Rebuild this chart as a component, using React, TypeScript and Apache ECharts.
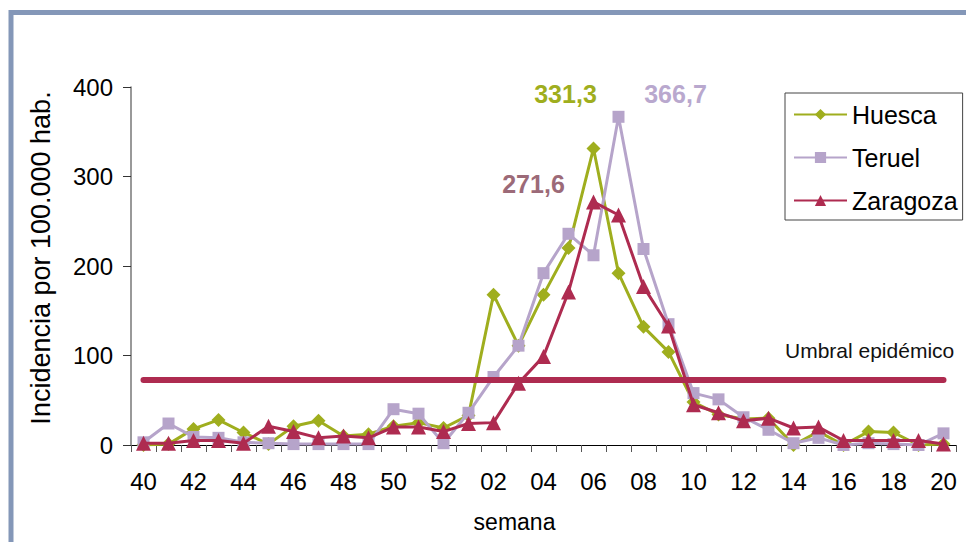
import React, { useEffect, useRef } from "react";
import * as echarts from "echarts";

const categories = [
  "40","41","42","43","44","45","46","47","48","49","50","51","52",
  "01","02","03","04","05","06","07","08","09","10","11","12","13","14","15","16","17","18","19","20",
];
const huesca = [0, 1, 18, 28, 14, 1, 21, 27, 10, 12, 21, 25, 19, 33, 168, 111, 168, 220, 331.3, 192, 132, 104, 48, 34, 29, 30, 0, 15, 0, 15, 14, 0, 1];
const teruel = [3, 24, 9, 8, 3, 2, 1, 1, 1, 1, 40, 35, 2, 36, 76, 111, 192, 236, 212, 366.7, 219, 135, 58, 51, 31, 17, 2, 8, 0, 2, 1, 0, 13];
const zaragoza = [2, 2, 5, 5, 2, 21, 15, 8, 10, 8, 20, 20, 15, 24, 25, 69, 99, 171, 271.6, 257, 177, 133, 45, 36, 27, 30, 19, 20, 5, 5, 5, 5, 1];
const umbral = 72.5;
const seriesNames = ["Huesca", "Teruel", "Zaragoza"];
const peakHuesca = { week: "06", value: 331.3, label: "331,3" };
const peakTeruel = { week: "07", value: 366.7, label: "366,7" };
const peakZaragoza = { week: "06", value: 271.6, label: "271,6" };

const FONT = "Liberation Sans, Arial, sans-serif";
const NARROW = "Liberation Sans Narrow, Arial Narrow, Liberation Sans, sans-serif";
const C_HUESCA = "#9FAE1E";
const C_TERUEL = "#B6A4CA";
const C_ZARAGOZA = "#AE2B50";

export default function App() {
  const ref = useRef<HTMLDivElement>(null);
  useEffect(() => {
    if (!ref.current) return;
    const chart = echarts.init(ref.current, null, { renderer: "svg" });
    const peakMark = (p: any, color: string, offset: number[]) => ({
      symbol: "circle",
      symbolSize: 0,
      silent: true,
      data: [
        {
          coord: [p.week, p.value],
          label: {
            show: true,
            position: "inside",
            offset,
            formatter: p.label,
            color,
            fontFamily: FONT,
            fontWeight: "bold",
            fontSize: 25,
          },
        },
      ],
    });
    chart.setOption({
      animation: false,
      backgroundColor: "#ffffff",
      grid: { left: 131, right: 10, top: 87, bottom: 97 },
      legend: {
        data: seriesNames,
        orient: "vertical",
        left: 785,
        top: 93,
        padding: [9, 5, 7, 8],
        itemGap: 18,
        itemWidth: 53,
        itemHeight: 14,
        borderColor: "#444",
        borderWidth: 1,
        textStyle: { fontFamily: FONT, fontSize: 25, color: "#000" },
      },
      xAxis: {
        type: "category",
        data: categories,
        boundaryGap: true,
        name: "semana",
        nameLocation: "middle",
        nameGap: 65,
        nameTextStyle: { fontFamily: NARROW, fontSize: 23, color: "#000", padding: [0, 58, 0, 0] },
        axisLine: { lineStyle: { color: "#000", width: 1 } },
        axisTick: { show: true, interval: 0, length: 7, lineStyle: { color: "#555" } },
        axisLabel: { interval: 1, margin: 24, fontFamily: NARROW, fontSize: 24, color: "#000" },
      },
      yAxis: {
        type: "value",
        min: 0,
        max: 400,
        interval: 100,
        name: "Incidencia por 100.000 hab.",
        nameLocation: "middle",
        nameGap: 77,
        nameTextStyle: { fontFamily: FONT, fontSize: 27, color: "#000", padding: [0, 0, 0, 16] },
        axisLine: { show: true, lineStyle: { color: "#777", width: 1.5 } },
        axisTick: { show: true, length: 8, lineStyle: { color: "#333" } },
        splitLine: { show: false },
        axisLabel: { margin: 18, fontFamily: NARROW, fontSize: 24, color: "#000" },
      },
      graphic: [
        {
          type: "rect",
          shape: { x: 11, y: 12.5, width: 1000, height: 600 },
          style: { fill: "none", stroke: "#8497B8", lineWidth: 5 },
          silent: true,
        },
        {
          type: "text",
          left: 785,
          top: 340,
          style: { text: "Umbral epidémico", fontFamily: FONT, fontSize: 21, fill: "#111" },
          silent: true,
        },
      ],
      series: [
        {
          name: "Umbral",
          type: "line",
          data: [],
          z: 1,
          markLine: {
            silent: true,
            symbol: "none",
            label: { show: false },
            lineStyle: { color: C_ZARAGOZA, width: 6, type: "solid", cap: "round" },
            data: [[
              { coord: [categories[0], umbral] },
              { coord: [categories[categories.length - 1], umbral] },
            ]],
          },
        },
        {
          name: "Huesca",
          type: "line",
          data: huesca,
          z: 2,
          symbol: "diamond",
          symbolSize: 14,
          color: C_HUESCA,
          lineStyle: { width: 3, color: C_HUESCA },
          itemStyle: { color: C_HUESCA },
          markPoint: peakMark(peakHuesca, C_HUESCA, [-28, -54]),
        },
        {
          name: "Teruel",
          type: "line",
          data: teruel,
          z: 3,
          symbol: "rect",
          symbolSize: 12,
          color: C_TERUEL,
          lineStyle: { width: 3, color: C_TERUEL },
          itemStyle: { color: C_TERUEL },
          markPoint: peakMark(peakTeruel, "#B9A8CE", [57, -23]),
        },
        {
          name: "Zaragoza",
          type: "line",
          data: zaragoza,
          z: 4,
          symbol: "triangle",
          symbolSize: 15,
          color: C_ZARAGOZA,
          lineStyle: { width: 3, color: C_ZARAGOZA },
          itemStyle: { color: C_ZARAGOZA },
          markPoint: peakMark(peakZaragoza, "#9C6A78", [-60, -18]),
        },
      ],
    });
    return () => chart.dispose();
  }, []);
  return (
    <div
      ref={ref}
      style={{ position: "fixed", left: 0, top: 0, width: 966, height: 542, background: "#fff" }}
    />
  );
}
